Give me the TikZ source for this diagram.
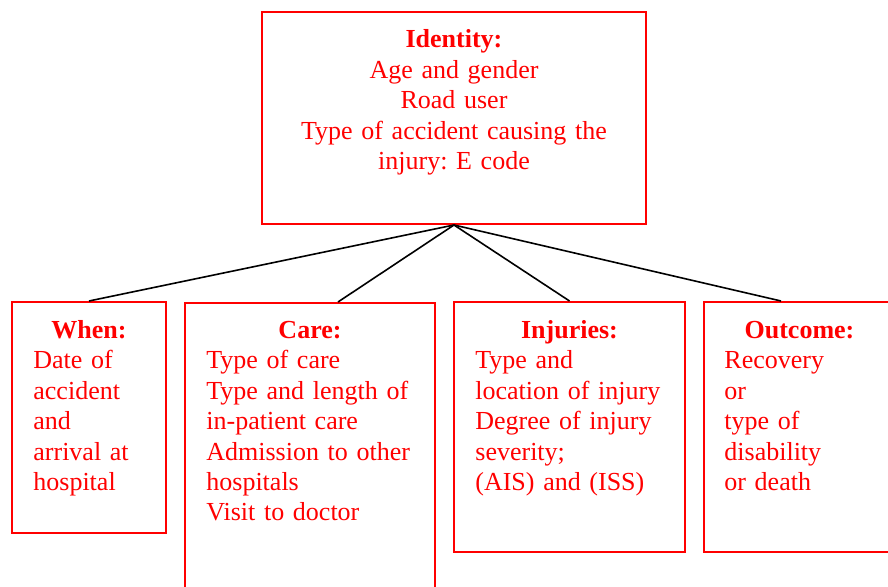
\documentclass[tikz,border=0pt]{standalone}
\usepackage{fontspec}
\setmainfont{Liberation Serif}
\usepackage{tikz}
\frenchspacing

\tikzset{
   box/.style={draw=red,line width=1pt,inner sep=0pt},
   link/.style={draw=black,line width=0.8pt},
   head/.style={text=red,anchor=base,inner sep=0pt,font=\fontsize{13}{15.2}\selectfont\bfseries},
   body/.style={text=red,anchor=base west,inner sep=0pt,text width=115pt,align=left,font=\fontsize{13}{15.2}\selectfont}
}

\begin{document}
\begin{tikzpicture}[x=0.5pt,y=-0.5pt]
   \useasboundingbox (0,0) rectangle (888,587);
   \clip (0,0) rectangle (888,587);
   %cajas
   \node[box,minimum width=192pt,minimum height=106pt] (identity) at (454,118) {};
   \node[box,minimum width=77pt,minimum height=115.5pt] (when) at (89,417.5) {};
   \node[box,minimum width=125pt,minimum height=168.5pt] (care) at (310,471.5) {};
   \node[box,minimum width=115.5pt,minimum height=125pt] (injuries) at (569.5,427) {};
   \node[box,minimum width=95.5pt,minimum height=125pt] (outcome) at (799.5,427) {};
   %lineas
   \draw[link] (identity.south) -- (when.north);
   \draw[link] (identity.south) -- ([xshift=14pt]care.north);
   \draw[link] (identity.south) -- (injuries.north);
   \draw[link] (identity.south) -- ([xshift=-9.25pt]outcome.north);
   %textos
   \node[head,text width=190pt,align=center] (identitytext) at (454,48)
      {Identity:\\ \mdseries Age and gender\\ Road user\\ Type of accident causing the\\ injury: E code};
   \node[head] (whenhead) at (89,339) {When:};
   \node[body] (whenbody) at (33,369) {Date of\\ accident\\ and\\ arrival at\\ hospital};
   \node[head] (carehead) at (310,339) {Care:};
   \node[body] (carebody) at (206,369) {Type of care\\ Type and length of\\ in-patient care\\ Admission to other\\ hospitals\\ Visit to doctor};
   \node[head] (injurieshead) at (569.5,339) {Injuries:};
   \node[body] (injuriesbody) at (475,369) {Type and\\ location of injury\\ Degree of injury\\ severity;\\ (AIS) and (ISS)};
   \node[head] (outcomehead) at (799.5,339) {Outcome:};
   \node[body] (outcomebody) at (724,369) {Recovery\\ or\\ type of\\ disability\\ or death};
\end{tikzpicture}
\end{document}
